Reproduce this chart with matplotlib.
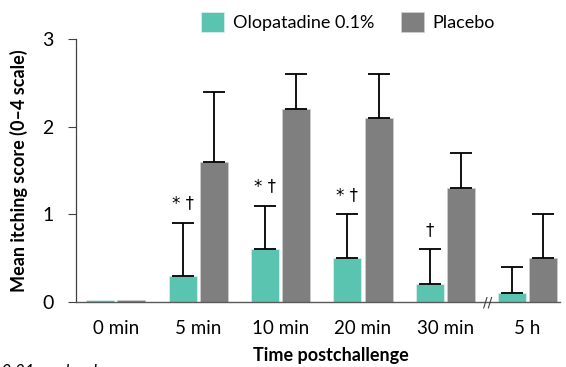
import matplotlib
matplotlib.use("Agg")
import matplotlib.pyplot as plt
import numpy as np

categories = ["0 min", "5 min", "10 min", "20 min", "30 min", "5 h"]
olopatadine = [0.02, 0.3, 0.6, 0.5, 0.2, 0.1]
olopatadine_err = [0.0, 0.6, 0.5, 0.5, 0.4, 0.3]
placebo = [0.02, 1.6, 2.2, 2.1, 1.3, 0.5]
placebo_err = [0.0, 0.8, 0.4, 0.5, 0.4, 0.5]
sig_labels = ["", "* †", "* †", "* †", "†", ""]
series_names = ["Olopatadine 0.1%", "Placebo"]

plt.rcParams['font.family'] = ['Lato', 'DejaVu Sans']

teal = "#5BC4B1"
gray = "#7F7F7F"

fig = plt.figure(figsize=(5.66, 3.67), dpi=100)
ax = fig.add_axes([0.134, 0.177, 0.855, 0.717])

x = np.arange(len(categories))
w = 0.34
off = 0.19

ax.bar(x - off, olopatadine, w, color=teal, edgecolor="#DDF2EE", linewidth=0.5,
       label=series_names[0], zorder=2)
ax.bar(x + off, placebo, w, color=gray, edgecolor="#D0D0D0", linewidth=0.5,
       label=series_names[1], zorder=2)

for xi, v, e in zip(x - off, olopatadine, olopatadine_err):
    if e > 0:
        ax.errorbar(xi, v, yerr=[[0], [e]], fmt="none", ecolor="black",
                    elinewidth=1.3, capsize=8, capthick=1.3, zorder=3)
for xi, v, e in zip(x + off, placebo, placebo_err):
    if e > 0:
        ax.errorbar(xi, v, yerr=[[0], [e]], fmt="none", ecolor="black",
                    elinewidth=1.3, capsize=8, capthick=1.3, zorder=3)

for xi, v, e, s in zip(x - off, olopatadine, olopatadine_err, sig_labels):
    if s:
        ax.text(xi, v + e + 0.12, s, ha="center", va="bottom", fontsize=12,
                family=["DejaVu Sans"])

ax.set_xlim(-0.485, 5.39)
ax.set_ylim(0, 3)
ax.set_yticks([0, 1, 2, 3])
ax.set_yticklabels(["0", "1", "2", "3"], fontsize=14)
ax.set_xticks(x)
ax.set_xticklabels(categories, fontsize=13.5)
ax.tick_params(axis="x", length=0, pad=13)
ax.tick_params(axis="y", length=6, width=0.8, direction="out", pad=10, color="#404040")

for s in ["top", "right"]:
    ax.spines[s].set_visible(False)
ax.spines["left"].set_color("#404040")
ax.spines["left"].set_linewidth(0.9)
ax.spines["bottom"].set_color("#595959")
ax.spines["bottom"].set_linewidth(1.0)

ax.set_ylabel("Mean itching score (0–4 scale)", fontsize=13, fontweight="bold", labelpad=10)
fig.text(0.585, 1 - 355 / 367, "Time postchallenge", fontsize=13, fontweight="bold",
         ha="center", va="center")

# axis break mark
ax.text(4.51, 0, "//", ha="center", va="center", fontsize=10, color="#404040",
        family=["DejaVu Sans"], zorder=4, clip_on=False)

fig.legend(*ax.get_legend_handles_labels(), loc="center", bbox_to_anchor=(0.615, 1 - 22 / 367),
           ncol=2, frameon=False, fontsize=13, handlelength=1.25, handleheight=1.25,
           columnspacing=1.5, handletextpad=0.5)

fig.text(-0.015, 0.007, "<0.01 vs placebo", fontsize=12,
         style="italic", ha="left", va="top")

fig.savefig("out.png", dpi=100)
